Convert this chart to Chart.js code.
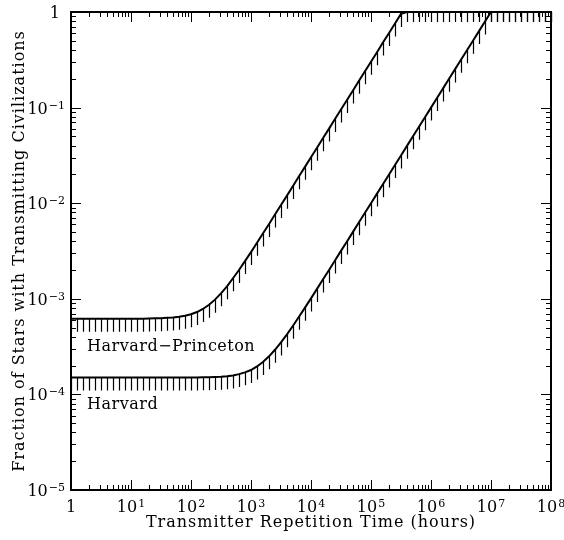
<!DOCTYPE html>
<html>
<head>
<meta charset="utf-8">
<script src="https://cdn.jsdelivr.net/npm/chart.js@4.4.1/dist/chart.umd.min.js"></script>
<style>
body { margin: 0; background: #fff; }
#wrap { width: 564px; height: 540px; }
</style>
</head>
<body>
<div id="wrap"><canvas id="seti" width="564" height="540"></canvas></div>
<script>
// repetition time in hours, 10 samples a decade (one hatch per sample)
var hours = [
	1, 1.26, 1.58, 2, 2.51, 3.16, 3.98, 5.01, 6.31, 7.94,
	10, 12.6, 15.8, 20, 25.1, 31.6, 39.8, 50.1, 63.1, 79.4,
	100, 126, 158, 200, 251, 316, 398, 501, 631, 794,
	1e3, 1.26e3, 1.58e3, 2e3, 2.51e3, 3.16e3, 3.98e3, 5.01e3, 6.31e3, 7.94e3,
	1e4, 1.26e4, 1.58e4, 2e4, 2.51e4, 3.16e4, 3.98e4, 5.01e4, 6.31e4, 7.94e4,
	1e5, 1.26e5, 1.58e5, 2e5, 2.51e5, 3.16e5, 3.98e5, 5.01e5, 6.31e5, 7.94e5,
	1e6, 1.26e6, 1.58e6, 2e6, 2.51e6, 3.16e6, 3.98e6, 5.01e6, 6.31e6, 7.94e6,
	1e7, 1.26e7, 1.58e7, 2e7, 2.51e7, 3.16e7, 3.98e7, 5.01e7, 6.31e7, 7.94e7,
	1e8
];

// fraction of stars (capped at 1)
var harvardPrinceton = [
	6.2e-4, 6.2e-4, 6.2e-4, 6.2e-4, 6.2e-4, 6.2e-4, 6.2e-4, 6.2e-4, 6.2e-4, 6.2e-4,
	6.2e-4, 6.2e-4, 6.2e-4, 6.23e-4, 6.25e-4, 6.27e-4, 6.32e-4, 6.38e-4, 6.49e-4, 6.65e-4,
	6.9e-4, 7.27e-4, 7.83e-4, 8.65e-4, 9.8e-4, 1.14e-3, 1.35e-3, 1.64e-3, 2.0e-3, 2.48e-3,
	3.08e-3, 3.85e-3, 4.83e-3, 6.06e-3, 7.62e-3, 9.57e-3, 1.2e-2, 1.51e-2, 1.91e-2, 2.4e-2,
	3.02e-2, 3.8e-2, 4.79e-2, 6.03e-2, 7.59e-2, 9.55e-2, 0.12, 0.151, 0.191, 0.24,
	0.302, 0.38, 0.479, 0.603, 0.759, 0.955, 1, 1, 1, 1,
	1, 1, 1, 1, 1, 1, 1, 1, 1, 1,
	1, 1, 1, 1, 1, 1, 1, 1, 1, 1,
	1
];

var harvard = [
	1.5e-4, 1.5e-4, 1.5e-4, 1.5e-4, 1.5e-4, 1.5e-4, 1.5e-4, 1.5e-4, 1.5e-4, 1.5e-4,
	1.5e-4, 1.5e-4, 1.5e-4, 1.5e-4, 1.5e-4, 1.5e-4, 1.5e-4, 1.5e-4, 1.5e-4, 1.5e-4,
	1.5e-4, 1.5e-4, 1.51e-4, 1.51e-4, 1.52e-4, 1.53e-4, 1.55e-4, 1.58e-4, 1.63e-4, 1.7e-4,
	1.8e-4, 1.96e-4, 2.18e-4, 2.5e-4, 2.93e-4, 3.5e-4, 4.25e-4, 5.23e-4, 6.49e-4, 8.08e-4,
	1.01e-3, 1.27e-3, 1.59e-3, 2.0e-3, 2.52e-3, 3.17e-3, 3.98e-3, 5.01e-3, 6.31e-3, 7.94e-3,
	1.0e-2, 1.26e-2, 1.58e-2, 2.0e-2, 2.51e-2, 3.16e-2, 3.98e-2, 5.01e-2, 6.31e-2, 7.94e-2,
	0.1, 0.126, 0.158, 0.2, 0.251, 0.316, 0.398, 0.501, 0.631, 0.794,
	1, 1, 1, 1, 1, 1, 1, 1, 1, 1,
	1
];

var xTickExp = [0, 1, 2, 3, 4, 5, 6, 7, 8];
var yTickExp = [-5, -4, -3, -2, -1, 0];

var curveNames = ["Harvard\u2212Princeton", "Harvard"];
var xTitle = "Transmitter Repetition Time (hours)";
var yTitle = "Fraction of Stars with Transmitting Civilizations";

// anchor (hours, fraction) of each curve name, left end of its baseline
var nameAnchors = [[1.85, 2.86e-4], [1.85, 6.97e-5]];

var FONT = '"DejaVu Serif", serif';
var myChart;

function toPoints(ys) {
	var pts = [];
	for(var i = 0; i < hours.length; i++) {
		pts.push({x: hours[i], y: ys[i]});
	}
	return pts;
}

function expText(e) {
	return e < 0 ? "\u2212" + (-e) : String(e);
}

// "1" or "10" with a raised exponent; align is 'center' or 'right'
function drawPower(ctx, e, x, base, align) {
	ctx.textAlign = "left";
	ctx.textBaseline = "alphabetic";
	if(e === 0) {
		ctx.font = "16px " + FONT;
		var w1 = ctx.measureText("1").width;
		ctx.fillText("1", align === "center" ? x - w1 / 2 : x - w1 - 5, base);
		return;
	}
	ctx.font = "16px " + FONT;
	var wb = ctx.measureText("10").width;
	ctx.font = "11px " + FONT;
	var we = ctx.measureText(expText(e)).width;
	var w = wb + 1 + we;
	var left = align === "center" ? x - w / 2 : x - w;
	ctx.font = "16px " + FONT;
	ctx.fillText("10", left, base);
	ctx.font = "11px " + FONT;
	ctx.fillText(expText(e), left + wb + 1, base - 5);
}

var framePlugin = {
	id: "frame",
	afterDatasetsDraw: function(chart) {
		var ctx = chart.ctx;
		var a = chart.chartArea;
		var xs = chart.scales.x;
		var ys = chart.scales.y;
		ctx.save();
		ctx.strokeStyle = "#000";
		ctx.fillStyle = "#000";

		// hatching hanging under each curve
		ctx.lineWidth = 1.2;
		chart.data.datasets.forEach(function(ds, i) {
			var meta = chart.getDatasetMeta(i);
			ctx.beginPath();
			meta.data.forEach(function(pt, j) {
				var len = ds.data[j].y >= 1 ? 10 : 13;
				var px = Math.round(pt.x) + 0.5;
				ctx.moveTo(px, pt.y);
				ctx.lineTo(px, pt.y + len);
			});
			ctx.stroke();
		});

		// inward ticks on all four sides
		ctx.lineWidth = 1;
		ctx.beginPath();
		var i, m, v, p, len;
		for(i = 0; i < xTickExp.length; i++) {
			for(m = 1; m <= 9; m++) {
				if(i === xTickExp.length - 1 && m > 1) break;
				v = m * Math.pow(10, xTickExp[i]);
				p = Math.round(xs.getPixelForValue(v)) + 0.5;
				len = m === 1 ? 10 : 5;
				ctx.moveTo(p, a.bottom); ctx.lineTo(p, a.bottom - len);
				ctx.moveTo(p, a.top); ctx.lineTo(p, a.top + len);
			}
		}
		for(i = 0; i < yTickExp.length; i++) {
			for(m = 1; m <= 9; m++) {
				if(i === yTickExp.length - 1 && m > 1) break;
				v = m * Math.pow(10, yTickExp[i]);
				p = Math.round(ys.getPixelForValue(v)) + 0.5;
				len = m === 1 ? 10 : 5;
				ctx.moveTo(a.left, p); ctx.lineTo(a.left + len, p);
				ctx.moveTo(a.right, p); ctx.lineTo(a.right - len, p);
			}
		}
		ctx.stroke();

		// frame
		ctx.lineWidth = 2;
		ctx.strokeRect(a.left, a.top, a.right - a.left, a.bottom - a.top);

		// tick labels
		xTickExp.forEach(function(e) {
			drawPower(ctx, e, xs.getPixelForValue(Math.pow(10, e)), a.bottom + 22, "center");
		});
		yTickExp.forEach(function(e) {
			drawPower(ctx, e, a.left - 6, ys.getPixelForValue(Math.pow(10, e)) + 6, "right");
		});

		// curve names
		ctx.font = "16px " + FONT;
		ctx.textAlign = "left";
		ctx.textBaseline = "alphabetic";
		ctx.letterSpacing = "0.5px";
		curveNames.forEach(function(name, k) {
			ctx.fillText(name, xs.getPixelForValue(nameAnchors[k][0]), ys.getPixelForValue(nameAnchors[k][1]));
		});

		// axis titles, spaced out like the plotter font
		ctx.letterSpacing = "1px";
		ctx.textAlign = "center";
		ctx.fillText(xTitle, (a.left + a.right) / 2, 527);
		ctx.translate(24, (a.top + a.bottom) / 2);
		ctx.rotate(-Math.PI / 2);
		ctx.fillText(yTitle, 0, 0);
		ctx.restore();
	}
};

function lineSet(name, ys) {
	return {
		label: name,
		data: toPoints(ys),
		borderColor: "#000",
		borderWidth: 2,
		pointRadius: 0,
		tension: 0,
		fill: false
	};
}

myChart = new Chart(document.getElementById("seti"), {
	type: "line",
	data: {
		datasets: [
			lineSet(curveNames[0], harvardPrinceton),
			lineSet(curveNames[1], harvard)
		]
	},
	options: {
		responsive: false,
		animation: false,
		events: [],
		layout: {padding: {left: 71, right: 13, top: 12, bottom: 50}},
		plugins: {legend: {display: false}, tooltip: {enabled: false}},
		scales: {
			x: {type: "logarithmic", min: 1, max: 1e8, display: false},
			y: {type: "logarithmic", min: 1e-5, max: 1, display: false}
		}
	},
	plugins: [framePlugin]
});
</script>
</body>
</html>
